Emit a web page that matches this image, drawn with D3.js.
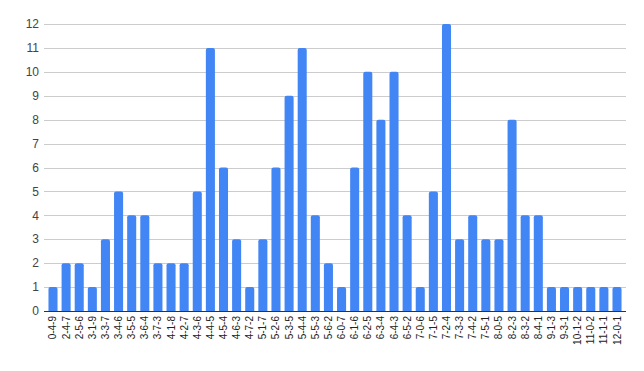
<!DOCTYPE html>
<html>
<head>
<meta charset="utf-8">
<script src="https://cdn.jsdelivr.net/npm/d3@7"></script>
<style>
  body { margin: 0; background: #fff; }
  text { font-family: Arial, "Liberation Sans", sans-serif; }
</style>
</head>
<body>
<div id="chart"></div>
<script>
const w = 644;
const h = 371;

// categories and counts
const categories = ['0-4-9', '2-4-7', '2-5-6', '3-1-9', '3-3-7', '3-4-6', '3-5-5', '3-6-4', '3-7-3', '4-1-8',
  '4-2-7', '4-3-6', '4-4-5', '4-5-4', '4-6-3', '4-7-2', '5-1-7', '5-2-6', '5-3-5', '5-4-4',
  '5-5-3', '5-6-2', '6-0-7', '6-1-6', '6-2-5', '6-3-4', '6-4-3', '6-5-2', '7-0-6', '7-1-5',
  '7-2-4', '7-3-3', '7-4-2', '7-5-1', '8-0-5', '8-2-3', '8-3-2', '8-4-1', '9-1-3', '9-3-1',
  '10-1-2', '11-0-2', '11-1-1', '12-0-1'];
const values = [1, 2, 2, 1, 3, 5, 4, 4, 2, 2,
  2, 5, 11, 6, 3, 1, 3, 6, 9, 11,
  4, 2, 1, 6, 10, 8, 10, 4, 1, 5,
  12, 3, 4, 3, 3, 8, 4, 4, 1, 1,
  1, 1, 1, 1];
const yTicks = [0, 1, 2, 3, 4, 5, 6, 7, 8, 9, 10, 11, 12];

const plotLeft = 44, plotRight = 626, plotTop = 24, plotBottom = 311;

const xScale = d3.scaleBand()
  .domain(categories)
  .range([plotLeft + 2.5, plotRight - 2.5])
  .paddingInner(0.31)
  .paddingOuter(0.15);
const yScale = d3.scaleLinear()
  .domain([0, 12])
  .range([plotBottom, plotTop]);

const svg = d3.select('#chart')
  .append('svg')
  .attr('width', w)
  .attr('height', h);

// gridlines
svg.append('g')
  .selectAll('line')
  .data(yTicks.slice(1))
  .enter()
  .append('line')
  .attr('x1', plotLeft)
  .attr('x2', plotRight)
  .attr('y1', (d) => Math.round(yScale(d)) + 0.5)
  .attr('y2', (d) => Math.round(yScale(d)) + 0.5)
  .attr('stroke', '#cccccc')
  .attr('stroke-width', 1);

// y labels
svg.append('g')
  .selectAll('text')
  .data(yTicks)
  .enter()
  .append('text')
  .attr('x', 39)
  .attr('y', (d) => yScale(d))
  .attr('dy', '0.35em')
  .attr('text-anchor', 'end')
  .style('font-size', '12px')
  .attr('fill', '#444')
  .text((d) => d);

// bars with rounded tops
function barPath(x, y, bw, bh, r) {
  r = Math.min(r, bh, bw / 2);
  return 'M' + x + ',' + (y + bh) +
    'V' + (y + r) +
    'Q' + x + ',' + y + ' ' + (x + r) + ',' + y +
    'H' + (x + bw - r) +
    'Q' + (x + bw) + ',' + y + ' ' + (x + bw) + ',' + (y + r) +
    'V' + (y + bh) + 'Z';
}

svg.append('g')
  .selectAll('path')
  .data(values)
  .enter()
  .append('path')
  .attr('fill', '#4285f4')
  .attr('d', (d, i) => barPath(xScale(categories[i]), yScale(d), xScale.bandwidth(), yScale(0) - yScale(d), 2));

// baseline
svg.append('line')
  .attr('x1', plotLeft)
  .attr('x2', plotRight)
  .attr('y1', plotBottom + 0.5)
  .attr('y2', plotBottom + 0.5)
  .attr('stroke', '#333333')
  .attr('stroke-width', 1);

// x labels
svg.append('g')
  .selectAll('text')
  .data(categories)
  .enter()
  .append('text')
  .attr('transform', (d) => 'translate(' + (xScale(d) + xScale.bandwidth() / 2) + ',316)rotate(-90)')
  .attr('dy', '0.35em')
  .attr('text-anchor', 'end')
  .style('font-size', '10px')
  .attr('fill', '#222')
  .text((d) => d);
</script>
</body>
</html>
